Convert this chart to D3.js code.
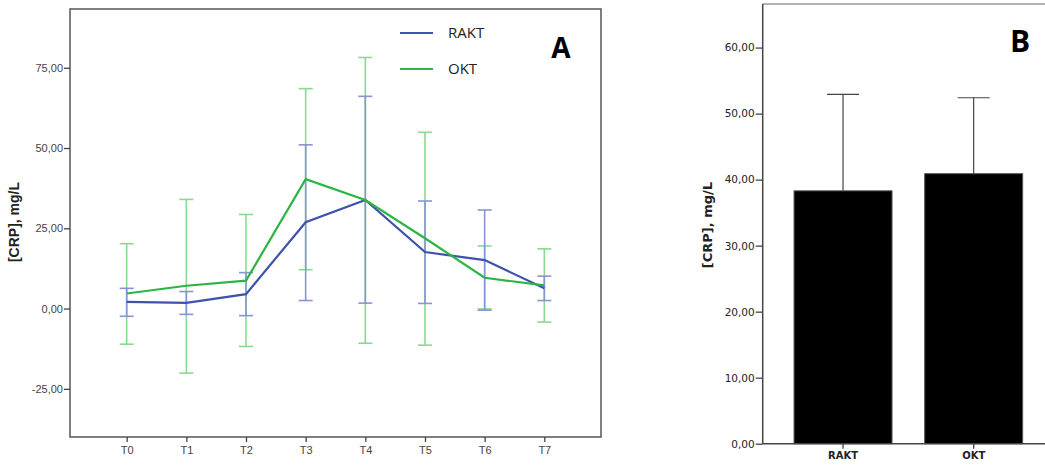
<!DOCTYPE html>
<html>
<head>
<meta charset="utf-8">
<script src="https://cdn.jsdelivr.net/npm/d3@7"></script>
<style>
  body { margin: 0; background: #fff; }
  svg { display: block; }
</style>
</head>
<body>
<svg class="chart" width="1045" height="466"></svg>
<script>
// panel A data (mean, lower, upper of error bars)
let timepoints = ["T0", "T1", "T2", "T3", "T4", "T5", "T6", "T7"];
let raktMean  = [2.1, 1.8, 4.5, 26.9, 33.8, 17.6, 15.1, 6.3];
let raktLow   = [-2.4, -1.8, -2.2, 2.5, 1.7, 1.6, -0.5, 2.5];
let raktHigh  = [6.3, 5.3, 11.2, 51.0, 66.1, 33.5, 30.7, 10.1];
let oktMean   = [4.7, 7.1, 8.7, 40.3, 33.8, 21.9, 9.6, 7.2];
let oktLow    = [-11.1, -20.1, -11.8, 12.1, -10.8, -11.4, -0.1, -4.2];
let oktHigh   = [20.2, 34.0, 29.3, 68.5, 78.2, 54.9, 19.5, 18.6];
let yTicksA   = [-25, 0, 25, 50, 75];

// panel B data
let groups    = ["RAKT", "OKT"];
let groupMean = [38.3, 40.9];
let groupHigh = [52.9, 52.4];
let yTicksB   = [0, 10, 20, 30, 40, 50, 60];

let fmt = d => d.toFixed(2).replace(".", ",");

let svg = d3.select("body").select(".chart");

// ---------- panel A ----------
let boxA = {left: 70, right: 601, top: 9, bottom: 437};
let xA = d3.scalePoint().domain(timepoints).range([boxA.left, boxA.right]).padding(0.95);
let yA = d3.scaleLinear().domain([-40, 93.3]).range([boxA.bottom, boxA.top]);

let series = [
  {name: "OKT",  mean: oktMean,  low: oktLow,  high: oktHigh,  line: "#2cb544", bar: "#8ad993"},
  {name: "RAKT", mean: raktMean, low: raktLow, high: raktHigh, line: "#3e52ad", bar: "#8795d3"}
];

let plotA = svg.append("g").attr("id", "plotA");

// frame
plotA.append("rect")
  .attr("x", boxA.left).attr("y", boxA.top)
  .attr("width", boxA.right - boxA.left).attr("height", boxA.bottom - boxA.top)
  .attr("fill", "none").attr("stroke", "#555").attr("stroke-width", 1.5);

// axes
let yAxisA = d3.axisLeft(yA).tickValues(yTicksA).tickFormat(fmt).tickSize(6).tickPadding(1);
let yGroupA = plotA.append("g").attr("transform", translate(boxA.left, 0)).call(yAxisA);
let xAxisA = d3.axisBottom(xA).tickSize(5).tickPadding(4);
let xGroupA = plotA.append("g").attr("transform", translate(0, boxA.bottom)).call(xAxisA);
[yGroupA, xGroupA].forEach(g => {
  g.select(".domain").remove();
  g.selectAll("line").attr("stroke", "#444").attr("stroke-width", 1.3);
  g.selectAll("text").attr("fill", "#444").style("font-family", "Liberation Sans, Arial, sans-serif").style("font-size", "11px");
});

// error bars
series.forEach(s => {
  let eb = plotA.append("g").attr("class", "err-" + s.name)
    .attr("stroke", s.bar).attr("stroke-width", 1.6).attr("fill", "none");
  timepoints.forEach((t, i) => {
    let x = xA(t);
    eb.append("line").attr("x1", x).attr("x2", x).attr("y1", yA(s.low[i])).attr("y2", yA(s.high[i]));
    eb.append("line").attr("x1", x - 7).attr("x2", x + 7).attr("y1", yA(s.low[i])).attr("y2", yA(s.low[i]));
    eb.append("line").attr("x1", x - 7).attr("x2", x + 7).attr("y1", yA(s.high[i])).attr("y2", yA(s.high[i]));
  });
});

// mean lines (blue first, green on top)
let lineGen = d3.line().x((d, i) => xA(timepoints[i])).y(d => yA(d));
[series[1], series[0]].forEach(s => {
  plotA.append("path").datum(s.mean)
    .attr("d", lineGen).attr("fill", "none")
    .attr("stroke", s.line).attr("stroke-width", 2.2);
});

// legend
let legend = plotA.append("g").attr("id", "legend");
[{name: "RAKT", color: "#3e52ad", y: 33}, {name: "OKT", color: "#2cb544", y: 69}].forEach(d => {
  legend.append("line").attr("x1", 400).attr("x2", 433).attr("y1", d.y).attr("y2", d.y)
    .attr("stroke", d.color).attr("stroke-width", 2.2);
  legend.append("text").attr("x", 448).attr("y", d.y).attr("dy", "0.35em")
    .style("font-family", "Open Sans, sans-serif").style("font-size", "15px")
    .attr("fill", "#222").text(d.name);
});

plotA.append("text").attr("x", 561).attr("y", 58).attr("text-anchor", "middle")
  .style("font-family", "Open Sans, sans-serif").style("font-size", "28px").style("font-weight", "bold")
  .text("A");

// y label
svg.append("text")
  .attr("transform", translate(19, 222) + " rotate(-90)")
  .attr("text-anchor", "middle")
  .style("font-family", "Liberation Sans, Arial, sans-serif").style("font-size", "14px").style("font-weight", "bold")
  .attr("fill", "#222")
  .text("[CRP], mg/L");

// ---------- panel B ----------
let boxB = {left: 762.7, right: 1054, top: 4, bottom: 443.7};
let xB = d3.scaleBand().domain(groups).range([boxB.left, boxB.right]).paddingInner(0.25).paddingOuter(0.24);
let yB = d3.scaleLinear().domain([0, 66.6]).range([boxB.bottom, boxB.top]);

let plotB = svg.append("g").attr("id", "plotB");

// top border (light)
plotB.append("line").attr("x1", boxB.left).attr("x2", 1045).attr("y1", boxB.top).attr("y2", boxB.top)
  .attr("stroke", "#999").attr("stroke-width", 1.5);

// bars
plotB.selectAll(".bar").data(groups).enter().append("rect")
  .attr("class", "bar")
  .attr("x", d => xB(d))
  .attr("width", xB.bandwidth())
  .attr("y", (d, i) => yB(groupMean[i]))
  .attr("height", (d, i) => yB(0) - yB(groupMean[i]))
  .attr("fill", "#000").attr("stroke", "#555").attr("stroke-width", 1);

// error bars (upper only visible)
let ebB = plotB.append("g").attr("stroke", "#444").attr("stroke-width", 1.2);
groups.forEach((g, i) => {
  let x = xB(g) + xB.bandwidth() / 2;
  ebB.append("line").attr("x1", x).attr("x2", x).attr("y1", yB(groupMean[i])).attr("y2", yB(groupHigh[i]));
  ebB.append("line").attr("x1", x - 16).attr("x2", x + 16).attr("y1", yB(groupHigh[i])).attr("y2", yB(groupHigh[i]));
});

// axes
let yAxisB = d3.axisLeft(yB).tickValues(yTicksB).tickFormat(fmt).tickSize(7).tickPadding(1);
let yGroupB = plotB.append("g").attr("transform", translate(boxB.left, 0)).call(yAxisB);
let xAxisB = d3.axisBottom(xB).tickSize(5).tickPadding(3);
let xGroupB = plotB.append("g").attr("transform", translate(0, boxB.bottom)).call(xAxisB);
[yGroupB, xGroupB].forEach(g => {
  g.select(".domain").attr("stroke", "#444").attr("stroke-width", 1.5);
  g.selectAll("line").attr("stroke", "#444").attr("stroke-width", 1.3);
  g.selectAll("text").attr("fill", "#222").style("font-family", "DejaVu Sans, Verdana, sans-serif").style("font-size", "10.5px");
});
yGroupB.select(".domain").attr("d", "M0," + boxB.top + "V" + boxB.bottom);
xGroupB.select(".domain").attr("d", "M" + boxB.left + ",0H1045");
xGroupB.selectAll("text").style("font-weight", "bold").style("font-size", "10px");

plotB.append("text").attr("x", 1020).attr("y", 52).attr("text-anchor", "middle")
  .style("font-family", "Open Sans, sans-serif").style("font-size", "30px").style("font-weight", "bold")
  .text("B");

svg.append("text")
  .attr("transform", translate(712, 225) + " rotate(-90)")
  .attr("text-anchor", "middle")
  .style("font-family", "DejaVu Sans, Verdana, sans-serif").style("font-size", "13px").style("font-weight", "bold")
  .attr("fill", "#222")
  .text("[CRP], mg/L");

function translate(x, y) {
  return "translate(" + x + "," + y + ")";
}
</script>
</body>
</html>
